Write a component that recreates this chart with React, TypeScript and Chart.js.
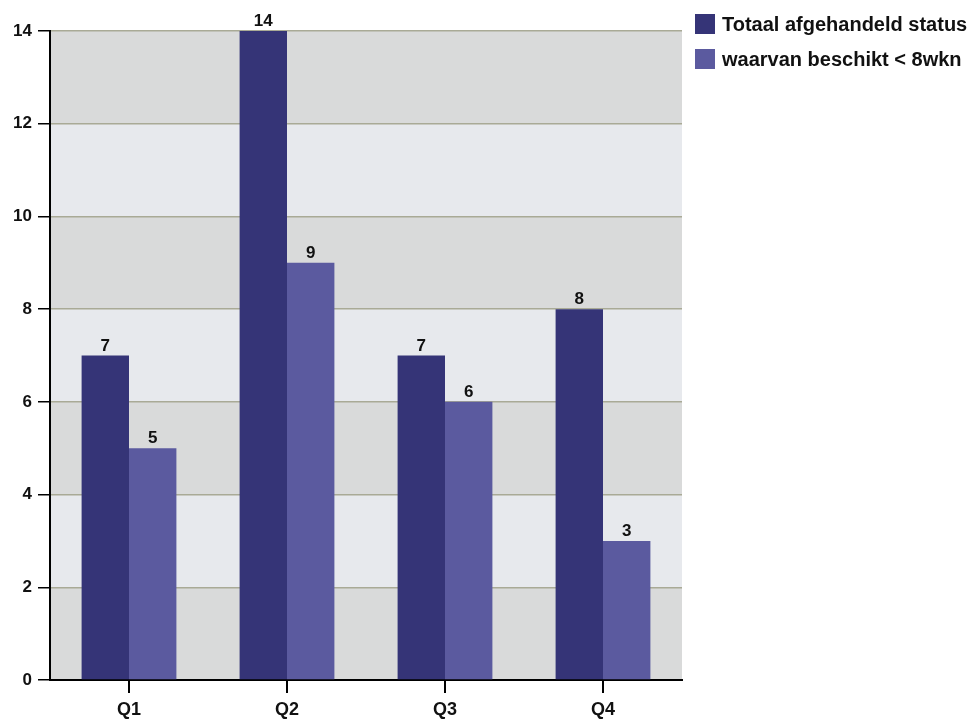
import React, { useEffect, useRef } from "react";
import { Chart, registerables } from "chart.js";

Chart.register(...registerables);

const categories = ["Q1", "Q2", "Q3", "Q4"];
const totaal = [7, 14, 7, 8];
const binnen8wkn = [5, 9, 6, 3];
const seriesNames = ["Totaal afgehandeld status", "waarvan beschikt < 8wkn"];
const seriesColors = ["#353477", "#5b5a9f"];

const FONT = "'Liberation Sans', Arial, sans-serif";

const bandPlugin = {
  id: "bands",
  beforeDraw(chart: any) {
    const { ctx, chartArea, scales } = chart;
    const y = scales.y;
    ctx.save();
    const ticks = y.ticks.map((t: any) => t.value);
    for (let i = 0; i < ticks.length - 1; i++) {
      const y0 = y.getPixelForValue(ticks[i]);
      const y1 = y.getPixelForValue(ticks[i + 1]);
      ctx.fillStyle = i % 2 === 0 ? "#d9dada" : "#e7e9ed";
      ctx.fillRect(chartArea.left, y1, chartArea.right - chartArea.left, y0 - y1);
    }
    ctx.restore();
  },
};

const labelPlugin = {
  id: "valueLabels",
  afterDatasetsDraw(chart: any) {
    const { ctx } = chart;
    ctx.save();
    ctx.font = `bold 17px ${FONT}`;
    ctx.fillStyle = "#111";
    ctx.textAlign = "center";
    ctx.textBaseline = "bottom";
    chart.data.datasets.forEach((ds: any, di: number) => {
      const meta = chart.getDatasetMeta(di);
      meta.data.forEach((bar: any, i: number) => {
        ctx.fillText(String(ds.data[i]), bar.x, bar.y - 1);
      });
    });
    ctx.restore();
  },
};

const legendPlugin = {
  id: "customLegend",
  afterDraw(chart: any) {
    const { ctx } = chart;
    ctx.save();
    ctx.font = `bold 20px ${FONT}`;
    ctx.textBaseline = "middle";
    ctx.textAlign = "left";
    seriesNames.forEach((name, i) => {
      const yc = 24 + i * 35;
      ctx.fillStyle = seriesColors[i];
      ctx.fillRect(695, yc - 10, 20, 20);
      ctx.fillStyle = "#111";
      ctx.fillText(name, 722, yc + 1);
    });
    ctx.restore();
  },
};

export default function App() {
  const ref = useRef<HTMLCanvasElement>(null);
  useEffect(() => {
    if (!ref.current) return;
    const chart = new Chart(ref.current, {
      type: "bar",
      data: {
        labels: categories,
        datasets: [
          { label: seriesNames[0], data: totaal, backgroundColor: seriesColors[0], categoryPercentage: 0.6, barPercentage: 1 },
          { label: seriesNames[1], data: binnen8wkn, backgroundColor: seriesColors[1], categoryPercentage: 0.6, barPercentage: 1 },
        ],
      },
      options: {
        animation: false,
        responsive: false,
        maintainAspectRatio: false,
        layout: { padding: { top: 31, right: 294, left: 0, bottom: 0 } },
        plugins: { legend: { display: false }, tooltip: { enabled: false } },
        scales: {
          x: {
            grid: { drawOnChartArea: false, drawTicks: true, tickLength: 13, color: "#000", offset: false, lineWidth: 2 },
            border: { color: "#000", width: 2 },
            ticks: { color: "#111", font: { family: FONT, size: 18, weight: "bold" }, padding: 6 },
            afterFit(scale: any) { scale.height = 45; },
          },
          y: {
            min: 0,
            max: 14,
            ticks: { stepSize: 2, color: "#111", font: { family: FONT, size: 17, weight: "bold" }, padding: 6 },
            grid: { color: (c: any) => (c.tick && c.tick.value === 0 ? "#000" : "#a9aa96"), tickColor: "#000", tickLength: 12, lineWidth: 1.5 },
            border: { color: "#000", width: 2 },
            afterFit(scale: any) { scale.width = 50; },
          },
        },
      },
      plugins: [bandPlugin, labelPlugin, legendPlugin],
    });
    return () => chart.destroy();
  }, []);
  return (
    <div style={{ position: "fixed", left: 0, top: 0, width: 976, height: 725, background: "#fff" }}>
      <canvas ref={ref} width={976} height={725} style={{ width: 976, height: 725 }} />
    </div>
  );
}
